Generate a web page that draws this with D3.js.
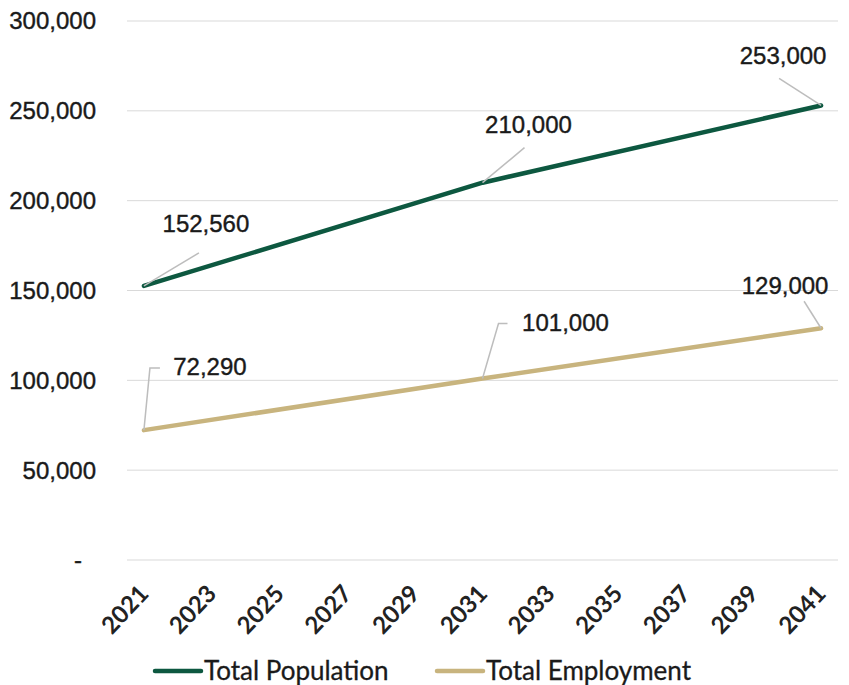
<!DOCTYPE html>
<html><head><meta charset="utf-8">
<script src="https://cdn.jsdelivr.net/npm/d3@7"></script>
<style>body{margin:0;background:#fff}svg{display:block}</style>
</head><body><div id="chart"></div>
<script>
const years = d3.range(2021, 2042);
const tickYears = [2021,2023,2025,2027,2029,2031,2033,2035,2037,2039,2041];
const yTicks = [0,50000,100000,150000,200000,250000,300000];
const popYears = [2021, 2031, 2041];
const popValues = [152560, 210000, 253000];
const empYears = [2021, 2031, 2041];
const empValues = [72290, 101000, 129000];
const seriesNames = ["Total Population", "Total Employment"];
const colors = ["#0d5840", "#c8b47e"];

const W = 849, H = 685;
const svg = d3.select("#chart").append("svg").attr("width", W).attr("height", H);
const x = d3.scaleBand().domain(years).range([127, 838]);
const xc = d => x(d) + x.bandwidth()/2;
const y = d3.scaleLinear().domain([0, 300000]).range([560, 21]);

// gridlines
svg.append("g").selectAll("line").data(yTicks).join("line")
  .attr("x1", 127).attr("x2", 838).attr("y1", d=>y(d)).attr("y2", d=>y(d))
  .attr("stroke", "#d9d9d9").attr("stroke-width", 1);

// y labels
const fmt = d3.format(",");
svg.append("g").selectAll("text").data(yTicks).join("text")
  .attr("x", d => d === 0 ? 82 : 96).attr("y", d => y(d))
  .attr("dy", "0.35em").attr("text-anchor", "end")
  .attr("font-family", "Liberation Sans, Arial, sans-serif").attr("font-size", 24)
  .attr("fill", "#1a1a1a").attr("stroke", "#1a1a1a").attr("stroke-width", 0.4)
  .text(d => d === 0 ? "-" : fmt(d));

// x labels
svg.append("g").selectAll("text").data(tickYears).join("text")
  .attr("transform", d => `translate(${xc(d)},${589}) rotate(-47)`)
  .attr("text-anchor", "end").attr("dy", "0.35em")
  .attr("font-family", "Lato, sans-serif").attr("font-weight", 700).attr("font-size", 24)
  .attr("fill", "#222")
  .text(d => d);

const line = d3.line().x(d => xc(d[0])).y(d => y(d[1]));
const series = [
  {name: seriesNames[0], pts: popYears.map((yr,i)=>[yr, popValues[i]]), color: colors[0]},
  {name: seriesNames[1], pts: empYears.map((yr,i)=>[yr, empValues[i]]), color: colors[1]}
];
series.forEach(s => {
  svg.append("path").datum(s.pts).attr("d", line)
    .attr("fill", "none").attr("stroke", s.color).attr("stroke-width", 4.5)
    .attr("stroke-linejoin", "round").attr("stroke-linecap", "round");
});

// data labels with leader lines (offsets in px)
const labelOffsets = [
  [ {lx: 62, ly: -62, path: [[0,0],[55,-33]]},
    {lx: 46, ly: -58, path: [[0,0],[42,-35]]},
    {lx: -38, ly: -50, path: [[0,0],[-42,-27]]} ],
  [ {lx: 66, ly: -64, path: [[0,0],[6,-62],[16,-62]]},
    {lx: 83, ly: -56, path: [[0,0],[16,-55],[25,-55]]},
    {lx: -36, ly: -43, path: [[0,0],[-17,-27]]} ]
];
series.forEach((s, si) => {
  s.pts.forEach((p, i) => {
    const px = xc(p[0]), py = y(p[1]);
    const o = labelOffsets[si][i];
    svg.append("path")
      .attr("d", d3.line()(o.path.map(q => [px+q[0], py+q[1]])))
      .attr("fill", "none").attr("stroke", "#bdbdbd").attr("stroke-width", 1.5);
    svg.append("text").attr("x", px + o.lx).attr("y", py + o.ly)
      .attr("dy", "0.35em").attr("text-anchor", "middle")
      .attr("font-family", "Liberation Sans, Arial, sans-serif").attr("font-size", 24)
      .attr("fill", "#1a1a1a").attr("stroke", "#1a1a1a").attr("stroke-width", 0.4)
      .text(fmt(p[1]));
  });
});

// legend
const legX = [155, 437];
series.forEach((s, i) => {
  svg.append("line").attr("x1", legX[i]).attr("x2", legX[i]+46).attr("y1", 671).attr("y2", 671)
    .attr("stroke", s.color).attr("stroke-width", 4.5).attr("stroke-linecap", "round");
  svg.append("text").attr("x", legX[i]+49).attr("y", 671).attr("dy", "0.35em")
    .attr("font-family", "Lato, sans-serif").attr("font-size", 26).attr("fill", "#1a1a1a")
    .attr("stroke", "#1a1a1a").attr("stroke-width", 0.3)
    .text(s.name);
});
</script></body></html>
